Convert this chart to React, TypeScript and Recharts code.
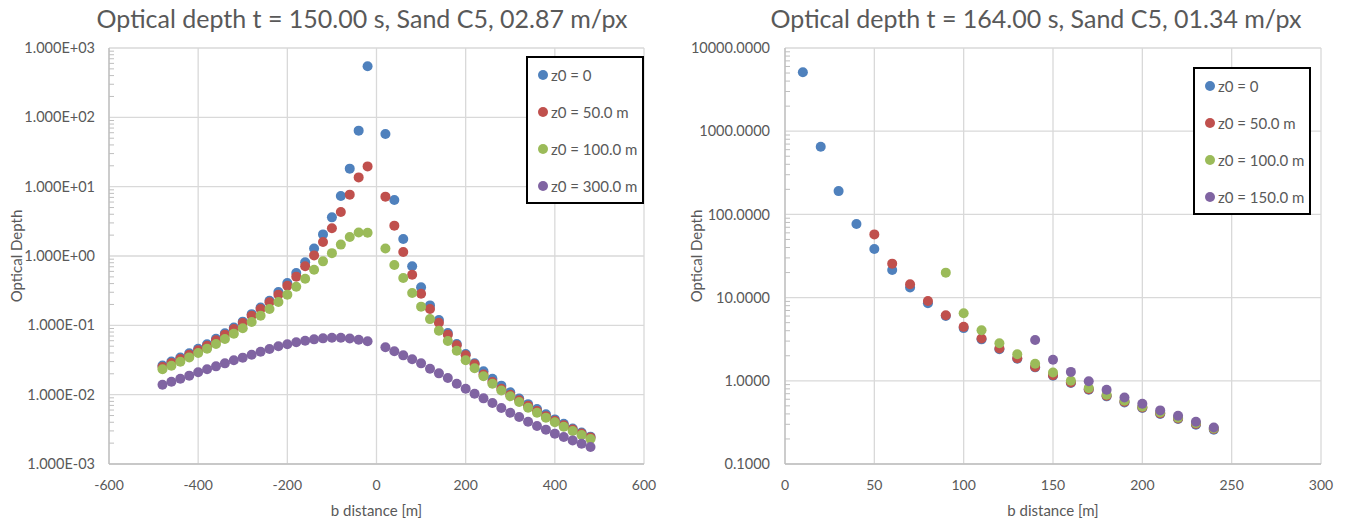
import React from 'react';
import { ScatterChart, Scatter, XAxis, YAxis, CartesianGrid, Legend, ReferenceLine } from 'recharts';

// ---------- Left panel: t = 150.00 s ----------
const leftDistances = [
  -480, -460, -440, -420, -400, -380, -360, -340, -320, -300, -280, -260,
  -240, -220, -200, -180, -160, -140, -120, -100, -80, -60, -40, -20,
  20, 40, 60, 80, 100, 120, 140, 160, 180, 200, 220, 240,
  260, 280, 300, 320, 340, 360, 380, 400, 420, 440, 460, 480,
];
const leftZ0 = [
  0.0264, 0.03, 0.0343, 0.0396, 0.0458, 0.0534, 0.064, 0.077, 0.093, 0.113, 0.145, 0.181,
  0.226, 0.303, 0.408, 0.569, 0.81, 1.28, 2.05, 3.61, 7.33, 18.2, 64.3, 545,
  57.5, 6.43, 1.76, 0.71, 0.353, 0.194, 0.119, 0.0775, 0.0538, 0.0386, 0.0283, 0.0218,
  0.017, 0.0135, 0.0108, 0.0088, 0.0073, 0.0062, 0.0052, 0.0044, 0.0038, 0.00325, 0.00285, 0.00248,
];
const leftZ50 = [
  0.0251, 0.0286, 0.0327, 0.0377, 0.0436, 0.0509, 0.0608, 0.0733, 0.0886, 0.108, 0.138, 0.172,
  0.215, 0.277, 0.373, 0.504, 0.71, 1.02, 1.59, 2.51, 4.31, 7.67, 13.6, 19.6,
  7.18, 2.74, 1.14, 0.538, 0.286, 0.172, 0.109, 0.0733, 0.0515, 0.0369, 0.0274, 0.0195,
  0.0152, 0.0122, 0.01, 0.0083, 0.0069, 0.0058, 0.0049, 0.0042, 0.00362, 0.00314, 0.00275, 0.00242,
];
const leftZ100 = [
  0.0232, 0.0262, 0.0299, 0.0345, 0.0399, 0.0461, 0.0538, 0.0635, 0.0759, 0.0905, 0.112, 0.138,
  0.172, 0.217, 0.277, 0.361, 0.471, 0.635, 0.837, 1.1, 1.46, 1.88, 2.18, 2.17,
  1.28, 0.741, 0.482, 0.292, 0.186, 0.123, 0.0838, 0.0594, 0.0431, 0.0313, 0.024, 0.0184,
  0.0144, 0.0115, 0.00946, 0.00784, 0.00649, 0.0055, 0.00466, 0.00399, 0.00345, 0.00299, 0.00262, 0.0023,
];
const leftZ300 = [
  0.0139, 0.0154, 0.017, 0.0188, 0.021, 0.0232, 0.0256, 0.0283, 0.0313, 0.0342, 0.0377, 0.0417,
  0.0456, 0.0498, 0.0532, 0.0569, 0.0601, 0.0628, 0.0649, 0.0664, 0.0664, 0.0644, 0.0621, 0.0588,
  0.0482, 0.0422, 0.0369, 0.0324, 0.0283, 0.0237, 0.0203, 0.0174, 0.0144, 0.0122, 0.0103, 0.00885,
  0.00759, 0.00643, 0.0055, 0.00476, 0.00408, 0.00353, 0.00313, 0.00274, 0.00245, 0.00219, 0.00196, 0.00176,
];
const leftNames = ['z0 = 0', 'z0 = 50.0 m', 'z0 = 100.0 m', 'z0 = 300.0 m'];
const leftXTicks = [-600, -400, -200, 0, 200, 400, 600];
const leftYTicks = [0.001, 0.01, 0.1, 1, 10, 100, 1000];

// ---------- Right panel: t = 164.00 s ----------
const rightDistZ0 = [10, 20, 30, 40, 50, 60, 70, 80, 90, 100, 110, 120, 130, 140, 150, 160, 170, 180, 190, 200, 210, 220, 230, 240];
const rightZ0 = [5105, 649, 190.5, 76.6, 38.4, 21.5, 13.2, 8.55, 6.0, 4.3, 3.15, 2.4, 1.84, 1.45, 1.15, 0.94, 0.78, 0.65, 0.55, 0.47, 0.4, 0.347, 0.297, 0.258];
const rightDistZ50 = [50, 60, 70, 80, 90, 100, 110, 120, 130, 140, 150, 160, 170, 180, 190, 200, 210, 220, 230, 240];
const rightZ50 = [57.5, 25.6, 14.5, 9.12, 6.14, 4.45, 3.22, 2.44, 1.87, 1.47, 1.17, 0.955, 0.794, 0.661, 0.56, 0.479, 0.406, 0.353, 0.302, 0.263];
const rightDistZ100 = [90, 100, 110, 120, 130, 140, 150, 160, 170, 180, 190, 200, 210, 220, 230, 240];
const rightZ100 = [19.95, 6.49, 4.06, 2.83, 2.09, 1.6, 1.26, 1.0, 0.817, 0.679, 0.575, 0.488, 0.417, 0.36, 0.31, 0.268];
const rightDistZ150 = [140, 150, 160, 170, 180, 190, 200, 210, 220, 230, 240];
const rightZ150 = [3.1, 1.79, 1.28, 0.99, 0.78, 0.631, 0.53, 0.441, 0.38, 0.322, 0.275];
const rightNames = ['z0 = 0', 'z0 = 50.0 m', 'z0 = 100.0 m', 'z0 = 150.0 m'];
const rightXTicks = [0, 50, 100, 150, 200, 250, 300];
const rightYTicks = [0.1, 1, 10, 100, 1000, 10000];

const COLORS = ['#4F81BD', '#C0504D', '#9BBB59', '#8064A2'];
const TEXT = '#595959';
const GRID = '#D9D9D9';
const AXIS = '#BFBFBF';
const FONT = 'Lato, "Open Sans", sans-serif';

const pairs = (xs: number[], ys: number[]) => xs.map((x, i) => ({ x, y: ys[i] }));

// decade ticks plus the 2..9 minor ticks inside each decade
const logTicks = (decades: number[]) => {
  const out: number[] = [];
  decades.forEach((d, i) => {
    out.push(d);
    if (i < decades.length - 1) {
      for (let k = 2; k <= 9; k++) out.push(Number((k * d).toPrecision(3)));
    }
  });
  return out;
};

const sci = (v: number) => {
  const [m, e] = v.toExponential(3).split('e');
  const n = Math.abs(parseInt(e, 10));
  return `${m}E${e[0] === '-' ? '-' : '+'}${String(n).padStart(2, '0')}`;
};
const fixed4 = (v: number) => v.toFixed(4);

// Decades get a label; minor values get a short inward tick mark on the axis
const LogTick = (props: any) => {
  const { x, y, payload, majors, fmt, margin } = props;
  const v = payload.value;
  if (majors.includes(v)) {
    return (
      <text x={x} y={y} dy="0.355em" textAnchor="end" fill={TEXT} fontSize={14.5} fontFamily={FONT}>
        {fmt(v)}
      </text>
    );
  }
  const ax = x + margin;
  return <line x1={ax} x2={ax + 5} y1={y} y2={y} stroke={AXIS} strokeWidth={1} />;
};

const dot = (color: string) => (p: any) => <circle cx={p.cx} cy={p.cy} r={5} fill={color} />;

const LegendBox = ({ payload, names }: any) => {
  const items = [...(payload || [])].sort(
    (a: any, b: any) => names.indexOf(a.value) - names.indexOf(b.value)
  );
  return (
    <div
      style={{
        width: 118,
        height: 148,
        boxSizing: 'border-box',
        border: '2px solid #000',
        background: '#fff',
        position: 'relative',
        fontFamily: FONT,
        fontSize: 15,
        color: TEXT,
      }}
    >
      {items.map((item: any, i: number) => (
        <div
          key={item.value}
          style={{ position: 'absolute', left: 10, top: 6.5 + i * 37, height: 20, display: 'flex', alignItems: 'center', whiteSpace: 'nowrap' }}
        >
          <svg width={10} height={10} style={{ marginRight: 3 }}>
            <circle cx={5} cy={5} r={5} fill={item.color} />
          </svg>
          <span>{item.value}</span>
        </div>
      ))}
    </div>
  );
};

const XTitle = (props: any) => {
  const vb = props.viewBox;
  return (
    <text x={vb.x + vb.width / 2} y={vb.y + 52} textAnchor="middle" fill={TEXT} fontSize={15} fontFamily={FONT}>
      b distance [m]
    </text>
  );
};

const YTitle = () => {
  const cx = 22;
  const cy = 256;
  return (
    <text x={cx} y={cy} transform={`rotate(-90 ${cx} ${cy})`} textAnchor="middle" fill={TEXT} fontSize={15} fontFamily={FONT}>
      Optical Depth
    </text>
  );
};

const Title = ({ text, cx }: { text: string; cx: number }) => (
  <div
    style={{
      position: 'absolute',
      left: cx,
      top: 5,
      transform: 'translateX(-50%)',
      whiteSpace: 'nowrap',
      fontFamily: FONT,
      fontSize: 25,
      lineHeight: '26px',
      color: TEXT,
    }}
  >
    {text}
  </div>
);

interface PanelProps {
  width: number;
  marginRight: number;
  yAxisWidth: number;
  yTickMargin: number;
  xDomain: [number, number];
  xTicks: number[];
  yDomain: [number, number];
  yTicks: number[];
  yFormat: (v: number) => string;
  names: string[];
  series: { name: string; data: { x: number; y: number }[] }[];
  legendPos: { left: number; top: number };
}

const Panel = (p: PanelProps) => (
  <ScatterChart width={p.width} height={523} margin={{ top: 48, right: p.marginRight, bottom: 0, left: 0 }}>
    <CartesianGrid stroke={GRID} strokeWidth={1.3} horizontal={false} />
    {p.yTicks.map((v) => (
      <ReferenceLine key={v} y={v} stroke={GRID} strokeWidth={1.3} />
    ))}
    <XAxis
      type="number"
      dataKey="x"
      domain={p.xDomain}
      ticks={p.xTicks}
      allowDataOverflow
      height={59}
      tickLine={false}
      tickSize={0}
      tickMargin={16}
      axisLine={{ stroke: AXIS, strokeWidth: 1.3 }}
      tick={{ fill: TEXT, fontSize: 14, fontFamily: FONT }}
      label={<XTitle />}
    />
    <YAxis
      type="number"
      dataKey="y"
      scale="log"
      domain={p.yDomain}
      ticks={logTicks(p.yTicks)}
      interval={0}
      allowDataOverflow
      width={p.yAxisWidth}
      tickLine={false}
      tickSize={0}
      tickMargin={p.yTickMargin}
      axisLine={{ stroke: AXIS, strokeWidth: 1.3 }}
      tick={<LogTick majors={p.yTicks} fmt={p.yFormat} margin={p.yTickMargin} />}
      label={<YTitle />}
    />
    <Legend
      layout="vertical"
      align="center"
      verticalAlign="middle"
      content={<LegendBox names={p.names} />}
      wrapperStyle={{ position: 'absolute', left: p.legendPos.left, top: p.legendPos.top, width: 118, height: 148 }}
    />
    {p.series.map((s, i) => (
      <Scatter
        key={s.name}
        name={s.name}
        data={s.data}
        fill={COLORS[i]}
        shape={dot(COLORS[i])}
        isAnimationActive={false}
      />
    ))}
  </ScatterChart>
);

export default function App() {
  const leftSeries = [leftZ0, leftZ50, leftZ100, leftZ300].map((ys, i) => ({
    name: leftNames[i],
    data: pairs(leftDistances, ys),
  }));
  const rightSeries = [
    pairs(rightDistZ0, rightZ0),
    pairs(rightDistZ50, rightZ50),
    pairs(rightDistZ100, rightZ100),
    pairs(rightDistZ150, rightZ150),
  ].map((data, i) => ({ name: rightNames[i], data }));

  return (
    <div style={{ position: 'absolute', left: 0, top: 0, width: 1346, height: 523, background: '#fff', overflow: 'hidden' }}>
      <Title text="Optical depth t = 150.00 s, Sand C5, 02.87 m/px" cx={362} />
      <Title text="Optical depth t = 164.00 s, Sand C5, 01.34 m/px" cx={1036} />
      <div style={{ position: 'absolute', left: 0, top: 0 }}>
        <Panel
          width={660}
          marginRight={16}
          yAxisWidth={109}
          yTickMargin={14}
          xDomain={[-600, 600]}
          xTicks={leftXTicks}
          yDomain={[0.001, 1000]}
          yTicks={leftYTicks}
          yFormat={sci}
          names={leftNames}
          series={leftSeries}
          legendPos={{ left: 526, top: 56 }}
        />
      </div>
      <div style={{ position: 'absolute', left: 680, top: 0 }}>
        <Panel
          width={666}
          marginRight={25}
          yAxisWidth={105}
          yTickMargin={15}
          xDomain={[0, 300]}
          xTicks={rightXTicks}
          yDomain={[0.1, 10000]}
          yTicks={rightYTicks}
          yFormat={fixed4}
          names={rightNames}
          series={rightSeries}
          legendPos={{ left: 513, top: 67 }}
        />
      </div>
    </div>
  );
}
